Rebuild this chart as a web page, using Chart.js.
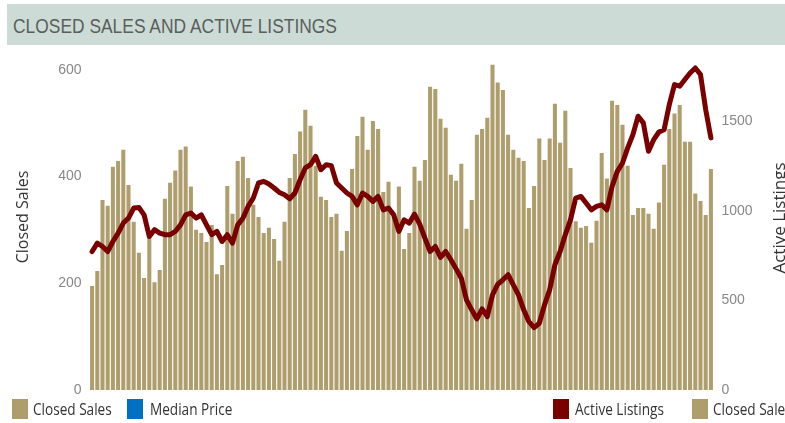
<!DOCTYPE html>
<html>
<head>
<meta charset="utf-8">
<script src="https://cdn.jsdelivr.net/npm/chart.js@4.4.0/dist/chart.umd.min.js"></script>
<style>
  body { margin:0; width:785px; height:423px; background:#fff; overflow:hidden; position:relative; }
  #band { position:absolute; left:7px; top:4px; width:778px; height:41px; background:#cddbd6; }
  #band span { position:absolute; left:6px; top:11px; font-family:'Liberation Sans',Arial,sans-serif; font-size:20px; color:#5a5f5c;
               transform:scaleX(0.87); transform-origin:0 0; white-space:nowrap; }
  #c { position:absolute; left:0; top:0; }
  .sw { position:absolute; top:399px; width:16px; height:20px; }
  .lt { position:absolute; top:398px; font-family:'Open Sans',sans-serif; font-size:16px; color:#333; white-space:nowrap;
        transform:scaleX(0.85); transform-origin:0 0; }
</style>
</head>
<body>
<div id="band"><span>CLOSED SALES AND ACTIVE LISTINGS</span></div>
<canvas id="c" width="785" height="423"></canvas>

<div class="sw" style="left:12px;background:#ae9e6e"></div><div class="lt" style="left:33px">Closed Sales</div>
<div class="sw" style="left:127px;background:#0070c0"></div><div class="lt" style="left:150px">Median Price</div>
<div class="sw" style="left:553px;background:#7a0000"></div><div class="lt" style="left:575px">Active Listings</div>
<div class="sw" style="left:692px;background:#ae9e6e"></div><div class="lt" style="left:713px">Closed Sales</div>

<script>
// monthly values (10 years)
const closedSales = [
  195, 223, 356, 345, 418, 429, 450, 384, 315, 257,
  210, 290, 202, 225, 358, 388, 411, 450, 456, 381,
  300, 294, 277, 309, 217, 234, 382, 330, 429, 437,
  397, 347, 324, 294, 304, 283, 242, 315, 397, 442,
  484, 525, 495, 420, 362, 356, 324, 330, 261, 298,
  414, 476, 512, 450, 504, 489, 371, 390, 330, 381,
  264, 294, 418, 392, 431, 568, 564, 508, 491, 403,
  392, 424, 302, 356, 478, 489, 510, 609, 576, 562,
  478, 450, 435, 429, 341, 382, 471, 431, 471, 536,
  463, 523, 416, 316, 304, 307, 276, 317, 444, 396,
  542, 534, 497, 420, 328, 341, 341, 330, 302, 351,
  422, 489, 518, 534, 465, 465, 368, 354, 328, 414
];
const activeListings = [
  774, 821, 802, 774, 830, 877, 933, 961, 1017, 1020,
  979, 858, 896, 877, 868, 868, 886, 923, 979, 989,
  961, 979, 923, 868, 886, 830, 868, 821, 923, 960,
  1026, 1073, 1157, 1166, 1151, 1129, 1104, 1091, 1069, 1101,
  1175, 1241, 1259, 1306, 1231, 1259, 1254, 1157, 1129, 1101,
  1082, 1035, 1101, 1082, 1054, 1082, 1007, 1017, 979, 886,
  951, 933, 983, 927, 849, 774, 802, 741, 774, 728,
  677, 625, 504, 448, 397, 453, 410, 532, 591, 616,
  644, 588, 532, 448, 382, 349, 373, 476, 560, 700,
  774, 868, 951, 1073, 1082, 1045, 1007, 1026, 1035, 1007,
  1138, 1222, 1269, 1353, 1427, 1530, 1493, 1334, 1399, 1442,
  1455, 1595, 1707, 1698, 1735, 1772, 1800, 1763, 1567, 1409
];
const months = closedSales.map((v, i) => 'M' + (i + 1));

const salesTicks = [0, 200, 400, 600];
const listingTicks = [0, 500, 1000, 1500];

const tickFont = { family: "'Liberation Sans', Arial, sans-serif", size: 14 };

// axis titles, both read bottom-to-top
const axisTitles = {
  id: 'axisTitles',
  afterDraw(chart) {
    const ctx = chart.ctx;
    const put = (text, x, y, size) => {
      ctx.save();
      ctx.translate(x, y);
      ctx.rotate(-Math.PI / 2);
      ctx.font = size + "px 'Open Sans', sans-serif";
      ctx.fillStyle = '#333';
      ctx.textAlign = 'center';
      ctx.textBaseline = 'middle';
      ctx.fillText(text, 0, 0);
      ctx.restore();
    };
    put('Closed Sales', 23, 217, 16);
    put('Active Listings', 780, 218, 17);
  }
};

new Chart(document.getElementById('c'), {
  data: {
    labels: months,
    datasets: [
      {
        type: 'line', label: 'Active Listings', data: activeListings, yAxisID: 'yR',
        borderColor: '#7a0000', borderWidth: 5, pointRadius: 0, tension: 0,
        borderJoinStyle: 'round', borderCapStyle: 'round', order: 0
      },
      {
        type: 'bar', label: 'Closed Sales', data: closedSales, yAxisID: 'yL',
        backgroundColor: '#ae9e6e', barPercentage: 0.78, categoryPercentage: 1, order: 1
      }
    ]
  },
  options: {
    responsive: false,
    animation: false,
    layout: { padding: { top: 59, bottom: 33 } },
    plugins: { legend: { display: false }, tooltip: { enabled: false } },
    scales: {
      x: { display: false, offset: true },
      yL: {
        position: 'left', min: 0, max: 620,
        ticks: { padding: 8, color: '#888', font: tickFont, autoSkip: false, callback: v => String(v) },
        grid: { display: false, drawTicks: false },
        border: { display: false },
        afterBuildTicks: s => { s.ticks = salesTicks.map(v => ({ value: v })); },
        afterFit: s => { s.width = 89.5; }
      },
      yR: {
        position: 'right', min: 0, max: 1850,
        ticks: { padding: 8, color: '#888', font: tickFont, autoSkip: false, callback: v => String(v) },
        grid: { display: false, drawTicks: false },
        border: { display: false },
        afterBuildTicks: s => { s.ticks = listingTicks.map(v => ({ value: v })); },
        afterFit: s => { s.width = 71.5; }
      }
    }
  },
  plugins: [axisTitles]
});
</script>
</body>
</html>
